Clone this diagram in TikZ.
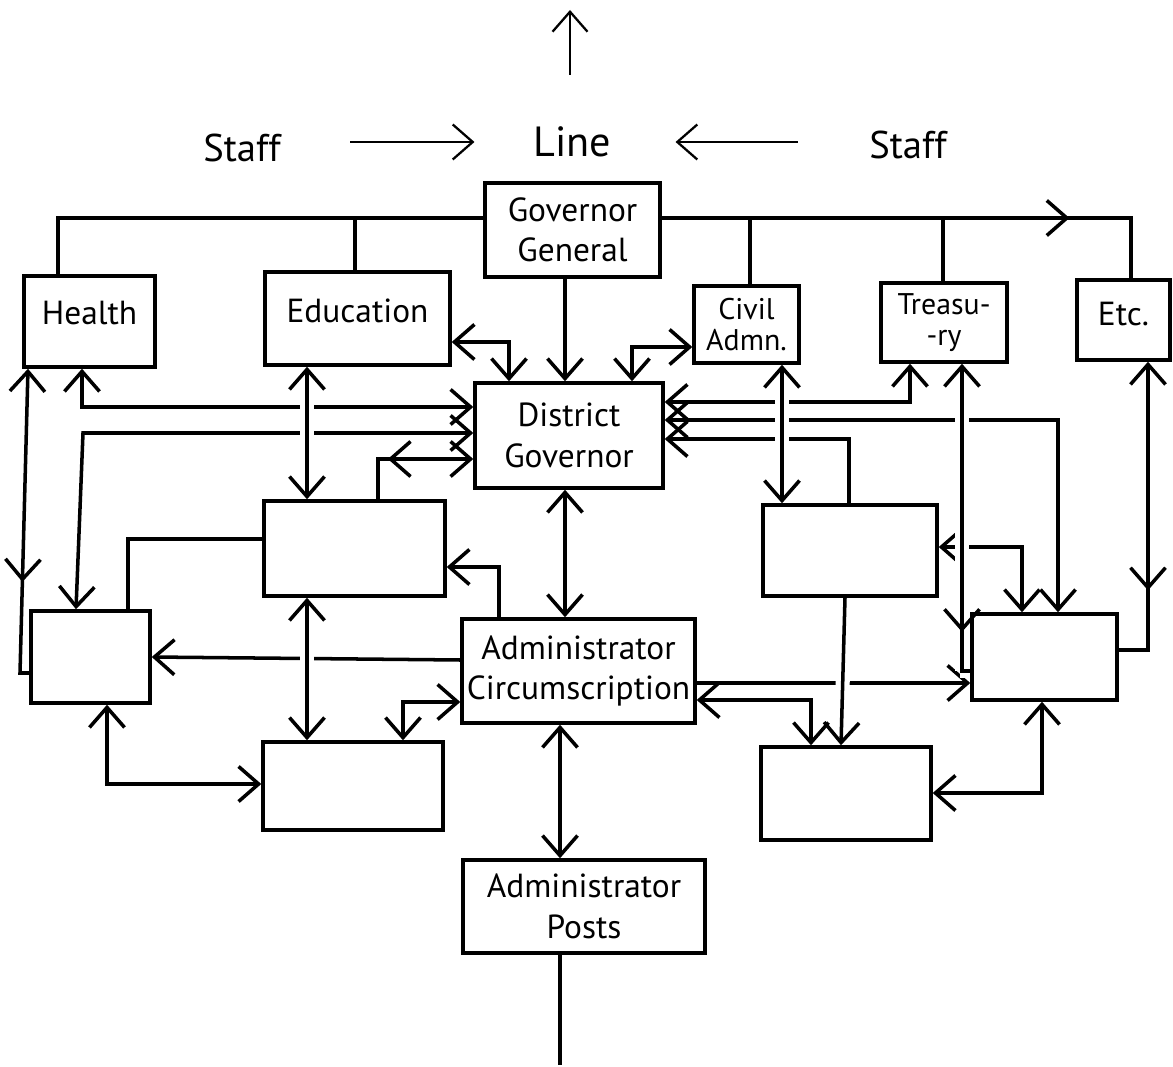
\documentclass[tikz,border=0pt]{standalone}
\usepackage{fontspec}
\setmainfont{PT Sans}
\usetikzlibrary{arrows.meta,decorations.markings}

\begin{document}
\begin{tikzpicture}[x=0.02cm,y=-0.02cm,line width=2pt,
  >={Straight Barb[length=4mm,width=7mm]},
  box/.style={draw,inner sep=0pt,align=center,font=\fontsize{19}{23}\selectfont},
  small/.style={box,font=\fontsize{17}{18}\selectfont},
  word/.style={inner sep=0pt,font=\fontsize{22}{26}\selectfont},
  over/.style={preaction={draw,white,line width=8pt,-,shorten <=6pt,shorten >=6pt}},
  mid arrow/.style={postaction={decorate},decoration={markings,mark=at position #1 with {\arrow{>}}}}]
\useasboundingbox (0,0) rectangle (1173,1067);

% line and staff
\node[word] (staffL) at (242,148) {Staff};
\node[word,font=\fontsize{24}{28}\selectfont] (line) at (572,142) {Line};
\node[word] (staffR) at (908,145) {Staff};
\coordinate (up) at (570,10);
\draw[->,line width=1.3pt] (up |- 0,75) -- (up);
\draw[->,line width=1.3pt,shorten <=1.36cm,shorten >=1.14cm] (staffL.east |- line.west) -- (line.west);
\draw[->,line width=1.3pt,shorten <=1.4cm,shorten >=1.26cm] (staffR.west |- line.east) -- (line.east);

% boxes
\node[box,minimum width=3.5cm,minimum height=1.88cm] (gg) at (572.5,230) {Governor\\General};
\node[box,minimum width=2.62cm,minimum height=1.82cm] (health) at (89.5,321.5) {\raisebox{0.16cm}[\height][\depth]{Health}};
\node[box,minimum width=3.7cm,minimum height=1.86cm] (edu) at (357.5,318.5) {\raisebox{0.16cm}[\height][\depth]{Education}};
\node[small,minimum width=2.1cm,minimum height=1.54cm] (civ) at (746.5,324.5) {Civil\\Admn.};
\node[small,minimum width=2.52cm,minimum height=1.58cm] (tre) at (944,322.5) {Treasu-\\-ry};
\node[box,minimum width=1.86cm,minimum height=1.6cm] (etc) at (1123.5,320) {\raisebox{0.12cm}[\height][\depth]{Etc.}};
\node[box,minimum width=3.76cm,minimum height=2.1cm] (dg) at (569,435.5) {District\\Governor};
\node[box,minimum width=3.62cm,minimum height=1.9cm] (l1) at (354.5,548.5) {};
\node[box,minimum width=2.38cm,minimum height=1.84cm] (lb1) at (90.5,657) {};
\node[box,minimum width=3.6cm,minimum height=1.76cm] (l2) at (353,786) {};
\node[box,minimum width=4.66cm,minimum height=2.08cm] (ac) at (578.5,671) {Administrator\\Circumscription};
\node[box,minimum width=4.84cm,minimum height=1.86cm] (ap) at (584,906.5) {Administrator\\Posts};
\node[box,minimum width=3.48cm,minimum height=1.82cm] (r1) at (850,550.5) {};
\node[box,minimum width=2.9cm,minimum height=1.72cm] (rb) at (1044.5,657) {};
\node[box,minimum width=3.4cm,minimum height=1.86cm] (r2) at (846,793.5) {};

% bus from governor general
\coordinate (busL) at (58,218);
\coordinate (busR) at (1131,218);
\draw (health.north -| busL) -- (busL) -- (gg.west |- busL);
\draw (edu.north -| 355,0) -- (355,0 |- busL);
\draw[mid arrow=0.77] (gg.east |- busR) -- (busR) -- (etc.north -| busR);
\draw (civ.north -| 750,0) -- (750,0 |- busR);
\draw (tre.north -| 943,0) -- (943,0 |- busR);

% left side
\draw[->] (gg.south -| 565,0) -- (dg.north -| 565,0);
\draw[<->] (edu.east |- 0,342) -| (dg.north -| 509,0);
\draw[<->] (civ.west |- 0,347) -| (dg.north -| 632,0);
\draw[<->] (health.south -| 82,0) |- (dg.west |- 0,407);
\draw[<-,mid arrow=0.68] (health.south -| 28,0) -- (20,673) -- (lb1.west |- 0,673);
\draw[<->] (dg.west |- 0,433) -- (83,433) -- (lb1.north -| 76,0);
\draw[<-,mid arrow=0.63] (dg.west |- 0,459) -| (l1.north -| 378,0);
\draw (l1.west |- 0,539) -| (lb1.north -| 128,0);
\draw[->] (ac.north -| 499,0) |- (l1.east |- 0,567);
\draw[->] (ac.west |- 0,660) -- (lb1.east |- 0,657);
\draw[<->] (lb1.south -| 107,0) |- (l2.west |- 0,784);
\draw[<->] (ac.west |- 0,702) -| (l2.north -| 403,0);
\draw[<->] (dg.south -| 565,0) -- (ac.north -| 565,0);
\draw[<->] (ac.south -| 560,0) -- (ap.north -| 560,0);
\coordinate (down) at (560,1065);
\draw (ap.south -| down) -- (down);

% right side
\draw[<->] (dg.east |- 0,402) -| (tre.south -| 910,0);
\draw[<->] (dg.east |- 0,420) -| (rb.north -| 1058,0);
\draw[<-] (dg.east |- 0,439) -| (r1.north -| 849,0);
\draw[<->] (r1.east |- 0,547) -| (rb.north -| 1022,0);
\draw[<-,mid arrow=0.72] (etc.south -| 1148,0) |- (rb.east |- 0,650);
\draw[->] (ac.east |- 0,683) -- (rb.west |- 0,683);
\draw[<->] (ac.east |- 0,700) -| (r2.north -| 811,0);
\draw[<->] (rb.south -| 1042,0) |- (r2.east |- 0,793);

% crossing lines
\draw[<->,over] (edu.south -| 307,0) -- (l1.north -| 307,0);
\draw[<->,over] (l1.south -| 307,0) -- (l2.north -| 307,0);
\draw[<->,over] (civ.south -| 782,0) -- (r1.north -| 782,0);
\draw[<-,over,mid arrow=0.85] (tre.south -| 962,0) -- (962,671) -- (rb.west |- 0,671);
\draw[->,over] (r1.south -| 845,0) -- (r2.north -| 841,0);
\end{tikzpicture}
\end{document}
